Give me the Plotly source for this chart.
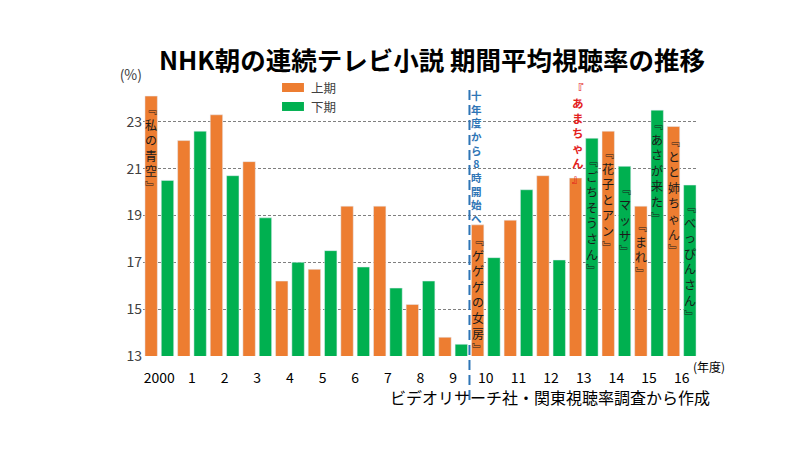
import plotly.graph_objects as go

# ---- data ----
years = ["2000", "1", "2", "3", "4", "5", "6", "7", "8", "9",
         "10", "11", "12", "13", "14", "15", "16"]
first_half = [24.1, 22.2, 23.3, 21.3, 16.2, 16.7, 19.4, 19.4, 15.2, 13.8,
              18.6, 18.8, 20.7, 20.6, 22.6, 19.4, 22.8]
second_half = [20.5, 22.6, 20.7, 18.9, 17.0, 17.5, 16.8, 15.9, 16.2, 13.5,
               17.2, 20.1, 17.1, 22.3, 21.1, 23.5, 20.3]
y_ticks = [13, 15, 17, 19, 21, 23, 25]
y_ticktext = ["13", "15", "17", "19", "21", "23", "(%)"]

# drama titles: (year index, half, title, offset of first cell below bar top, px)
drama_labels = [
    (0, "U", "﹃私の青空﹄", 12),
    (10, "U", "﹃ゲゲゲの女房﹄", 14),
    (13, "L", "﹃ごちそうさん﹄", 22),
    (14, "U", "﹃花子とアン﹄", 21),
    (14, "L", "﹃マッサ﹄", 21),
    (15, "U", "﹃まれ﹄", 19),
    (15, "L", "﹃あさが来た﹄", 13),
    (16, "U", "﹃とと姉ちゃん﹄", 13),
    (16, "L", "﹃べっぴんさん﹄", 21),
]

ORANGE = "#ED7D31"
GREEN = "#00B050"
BLUE = "#2E75B6"
RED = "#E3211C"
FONT = "Noto Sans CJK JP"

x_idx = list(range(len(years)))

fig = go.Figure()
fig.add_trace(go.Bar(x=x_idx, y=first_half, name="上期", marker_color=ORANGE))
fig.add_trace(go.Bar(x=x_idx, y=second_half, name="下期", marker_color=GREEN))

annotations = []


def vtext(x, y, text, first, size, color, bold=False, xshift=0):
    """Vertical text: one character per line, first line centred `first` px below y."""
    body = "<br>".join(text)
    if bold:
        body = "<b>" + body + "</b>"
    half_line = 1.3 * size / 2
    annotations.append(dict(
        x=x, y=y, xref="x", yref="y", text=body, showarrow=False,
        xanchor="center", yanchor="top", align="center", xshift=xshift,
        yshift=-(first - half_line - 1), borderpad=0,
        font=dict(family=FONT, size=size, color=color)))


for i, half, title, off in drama_labels:
    val = first_half[i] if half == "U" else second_half[i]
    xpos = i - 0.25 if half == "U" else i + 0.25
    vtext(xpos, val, title, off, 12, "#1a1a1a")

# red "amachan" label and blue note (anchored to the top gridline)
vtext(12.75, 25, "『あまちゃん』", 12, 11.5, RED, bold=True, xshift=2)
vtext(9.5, 25, "十年度から8時開始へ", 20, 10.5, BLUE, bold=True, xshift=7)

# legend (drawn manually to match the wide swatches)
legend_items = [("上期", ORANGE, 0.9555), ("下期", GREEN, 0.888)]
shapes = []
for name, col, yc in legend_items:
    shapes.append(dict(type="rect", xref="paper", yref="paper",
                       x0=0.2505, x1=0.290, y0=yc - 0.016, y1=yc + 0.016,
                       fillcolor=col, line=dict(width=0)))
    annotations.append(dict(x=0.300, y=yc, xref="paper", yref="paper",
                            text=name, showarrow=False, xanchor="left",
                            yanchor="middle", borderpad=0,
                            font=dict(family=FONT, size=12.5, color="#404040")))

# divider line between 2009 and 2010
shapes.append(dict(type="line", xref="x", yref="paper", x0=9.5, x1=9.5,
                   y0=-0.157, y1=0.954,
                   line=dict(color=BLUE, width=2, dash="10px,5px")))

annotations.append(dict(x=16.5, y=-0.039, xref="x", yref="paper",
                        text="(年度)", showarrow=False, xanchor="left",
                        yanchor="middle", xshift=-7,
                        font=dict(family=FONT, size=12, color="#000000")))
annotations.append(dict(x=1.025, y=-0.146, xref="paper", yref="paper",
                        text="ビデオリサーチ社・関東視聴率調査から作成",
                        showarrow=False, xanchor="right", yanchor="middle",
                        font=dict(family=FONT, size=16, color="#000000")))

fig.update_layout(
    width=800, height=450,
    margin=dict(l=143, r=102, t=75, b=94),
    paper_bgcolor="white", plot_bgcolor="white",
    barmode="group", bargap=0.0, bargroupgap=0.24,
    showlegend=False,
    title=dict(text="<b>NHK朝の連続テレビ小説 期間平均視聴率の推移</b>",
               x=432 / 800, xref="container", xanchor="center",
               y=1 - 61 / 450, yref="container", yanchor="middle",
               font=dict(family=FONT, size=25.5, color="#000000")),
    xaxis=dict(range=[-0.5, 16.5], tickmode="array", tickvals=x_idx,
               ticktext=years, showgrid=False, zeroline=False,
               showline=False, ticks="outside", ticklen=9,
               tickcolor="rgba(0,0,0,0)", automargin=False,
               tickfont=dict(family=FONT, size=14, color="#000000")),
    yaxis=dict(range=[13, 25], tickmode="array", tickvals=y_ticks,
               ticktext=y_ticktext, showgrid=True, gridcolor="#7f7f7f",
               griddash="3px,2px", gridwidth=1, zeroline=False,
               showline=False, ticks="", automargin=False,
               tickfont=dict(family=FONT, size=14, color="#404040")),
    annotations=annotations,
    shapes=shapes,
)

fig.write_html("out.html", config={"displayModeBar": False},
               post_script="document.body.style.margin='0';")
